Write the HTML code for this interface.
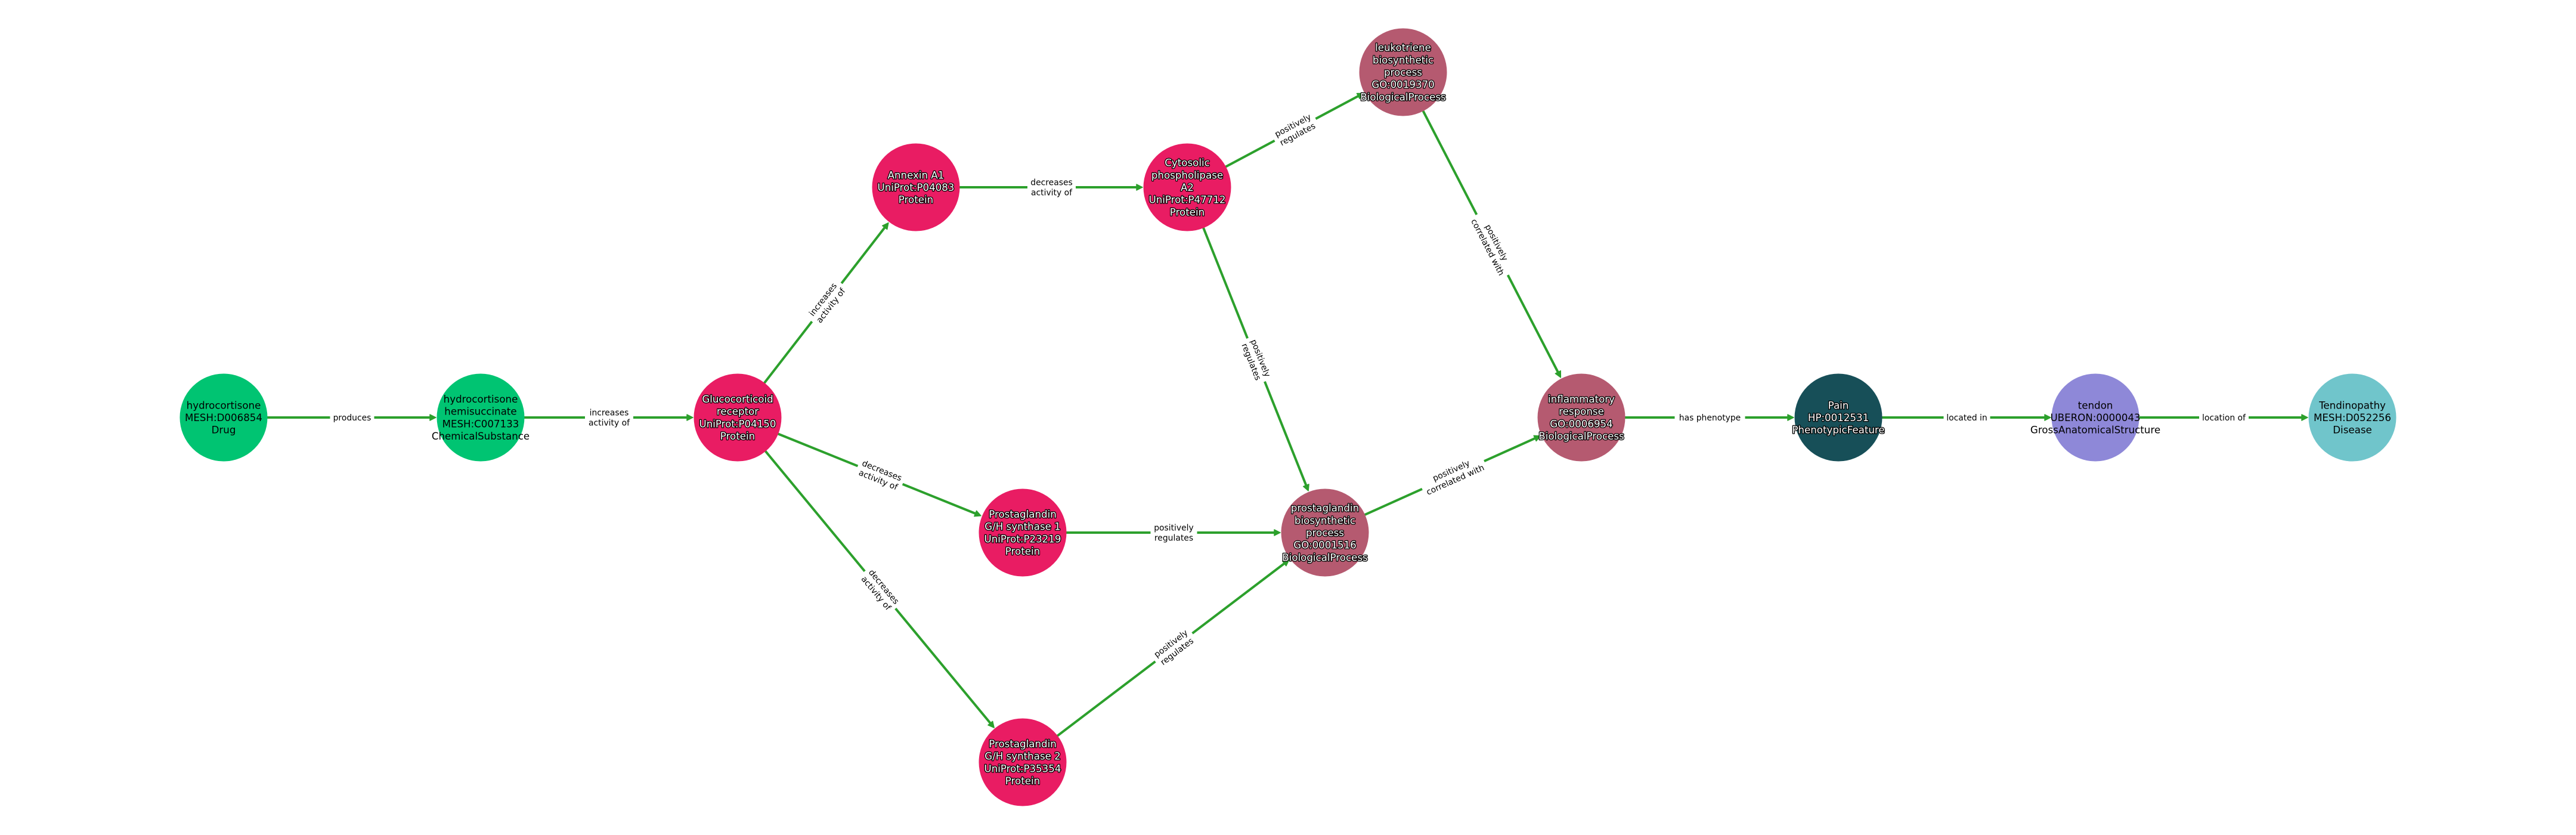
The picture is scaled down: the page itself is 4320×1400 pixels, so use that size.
<!DOCTYPE html>
<html>
<head>
<meta charset="utf-8">
<style>
html,body{margin:0;padding:0;background:#fff;width:4320px;height:1400px;overflow:hidden}
svg{display:block}
text{font-family:"DejaVu Sans",sans-serif;text-anchor:middle}
.e line{stroke:#2ca02c;stroke-width:4}
.e path{fill:#2ca02c;stroke:#2ca02c;stroke-width:1.5;stroke-linejoin:round}
.e rect{fill:#fff}
.e text{font-size:13.9px;fill:#000}
.n text{font-size:16.67px;fill:#000}
.w text{fill:#fff;stroke:#000;stroke-width:2.6px;paint-order:stroke;stroke-linejoin:round}
</style>
</head>
<body>
<svg width="4320" height="1400" viewBox="0 0 4320 1400" xmlns="http://www.w3.org/2000/svg">
<rect width="4320" height="1400" fill="#fff"/>

<!-- Edges -->
<g class="e" transform="matrix(1,0,0,1,375,700)"><line x2="352"/><path d="M346,-5 L356,0 L346,5z"/><rect x="178.5" y="-12" width="74" height="24"/><text x="215.5" y="5">produces</text></g>
<g class="e" transform="matrix(1,0,0,1,806,700)"><line x2="352"/><path d="M346,-5 L356,0 L346,5z"/><rect x="175" y="-22" width="81" height="44"/><text x="215.5" y="-3.4">increases</text><text x="215.5" y="13.3">activity of</text></g>
<g class="e" transform="matrix(.6123,-.7905,.7905,.6123,1237,700)"><line x2="409"/><path d="M403,-5 L413,0 L403,5z"/><rect x="203.6" y="-22" width="81" height="44"/><text x="244.1" y="-3.4">increases</text><text x="244.1" y="13.3">activity of</text></g>
<g class="e" transform="matrix(.9273,.3744,-.3744,.9273,1237,700)"><line x2="436"/><path d="M430,-5 L440,0 L430,5z"/><rect x="217.3" y="-22" width="81" height="44"/><text x="257.8" y="-3.4">decreases</text><text x="257.8" y="13.3">activity of</text></g>
<g class="e" transform="matrix(.6373,.7707,-.7707,.6373,1237,700)"><line x2="671"/><path d="M665,-5 L675,0 L665,5z"/><rect x="334.5" y="-22" width="81" height="44"/><text x="375" y="-3.4">decreases</text><text x="375" y="13.3">activity of</text></g>
<g class="e" transform="matrix(1,0,0,1,1536,314)"><line x2="376"/><path d="M370,-5 L380,0 L370,5z"/><rect x="187" y="-22" width="81" height="44"/><text x="227.5" y="-3.4">decreases</text><text x="227.5" y="13.3">activity of</text></g>
<g class="e" transform="matrix(.8825,-.4705,.4705,.8825,1991,314)"><line x2="331"/><path d="M325,-5 L335,0 L325,5z"/><rect x="166.1" y="-22" width="78" height="44"/><text x="205.1" y="-3.4">positively</text><text x="205.1" y="13.3">regulates</text></g>
<g class="e" transform="matrix(.3706,.9288,-.9288,.3706,1991,314)"><line x2="544"/><path d="M538,-5 L548,0 L538,5z"/><rect x="272.7" y="-22" width="78" height="44"/><text x="311.7" y="-3.4">positively</text><text x="311.7" y="13.3">regulates</text></g>
<g class="e" transform="matrix(1,0,0,1,1715,893)"><line x2="428"/><path d="M422,-5 L432,0 L422,5z"/><rect x="214.5" y="-22" width="78" height="44"/><text x="253.5" y="-3.4">positively</text><text x="253.5" y="13.3">regulates</text></g>
<g class="e" transform="matrix(.7964,-.6048,.6048,.7964,1715,1278)"><line x2="557"/><path d="M551,-5 L561,0 L551,5z"/><rect x="279.3" y="-22" width="78" height="44"/><text x="318.3" y="-3.4">positively</text><text x="318.3" y="13.3">regulates</text></g>
<g class="e" transform="matrix(.4589,.8886,-.8886,.4589,2353,121)"><line x2="572"/><path d="M566,-5 L576,0 L566,5z"/><rect x="268.8" y="-22" width="114" height="44"/><text x="325.8" y="-3.4">positively</text><text x="325.8" y="13.3">correlated with</text></g>
<g class="e" transform="matrix(.9124,-.4095,.4095,.9124,2222,893)"><line x2="392"/><path d="M386,-5 L396,0 L386,5z"/><rect x="178.6" y="-22" width="114" height="44"/><text x="235.6" y="-3.4">positively</text><text x="235.6" y="13.3">correlated with</text></g>
<g class="e" transform="matrix(1,0,0,1,2652,700)"><line x2="352"/><path d="M346,-5 L356,0 L346,5z"/><rect x="156.5" y="-12" width="118" height="24"/><text x="215.5" y="5">has phenotype</text></g>
<g class="e" transform="matrix(1,0,0,1,3083,700)"><line x2="352"/><path d="M346,-5 L356,0 L346,5z"/><rect x="176.5" y="-12" width="78" height="24"/><text x="215.5" y="5">located in</text></g>
<g class="e" transform="matrix(1,0,0,1,3514,700)"><line x2="352"/><path d="M346,-5 L356,0 L346,5z"/><rect x="174" y="-12" width="83" height="24"/><text x="215.5" y="5">location of</text></g>

<!-- Nodes -->
<g class="n"><circle cx="375" cy="700" r="73.5" fill="#00c472"/>
<text x="375" y="685.3">hydrocortisone</text><text x="375" y="706">MESH:D006854</text><text x="375" y="726.7">Drug</text></g>
<g class="n"><circle cx="806" cy="700" r="73.5" fill="#00c472"/>
<text x="806" y="675">hydrocortisone</text><text x="806" y="695.7">hemisuccinate</text><text x="806" y="716.3">MESH:C007133</text><text x="806" y="737">ChemicalSubstance</text></g>
<g class="n w"><circle cx="1237" cy="700" r="73.5" fill="#e91c63"/>
<text x="1237" y="675">Glucocorticoid</text><text x="1237" y="695.7">receptor</text><text x="1237" y="716.3">UniProt:P04150</text><text x="1237" y="737">Protein</text></g>
<g class="n w"><circle cx="1536" cy="314" r="73.5" fill="#e91c63"/>
<text x="1536" y="299.3">Annexin A1</text><text x="1536" y="320">UniProt:P04083</text><text x="1536" y="340.7">Protein</text></g>
<g class="n w"><circle cx="1991" cy="314" r="73.5" fill="#e91c63"/>
<text x="1991" y="278.7">Cytosolic</text><text x="1991" y="299.3">phospholipase</text><text x="1991" y="320">A2</text><text x="1991" y="340.7">UniProt:P47712</text><text x="1991" y="361.3">Protein</text></g>
<g class="n w"><circle cx="2353" cy="121" r="73.5" fill="#b55a70"/>
<text x="2353" y="85.7">leukotriene</text><text x="2353" y="106.3">biosynthetic</text><text x="2353" y="127">process</text><text x="2353" y="147.7">GO:0019370</text><text x="2353" y="168.3">BiologicalProcess</text></g>
<g class="n w"><circle cx="1715" cy="893" r="73.5" fill="#e91c63"/>
<text x="1715" y="868">Prostaglandin</text><text x="1715" y="888.7">G/H synthase 1</text><text x="1715" y="909.3">UniProt:P23219</text><text x="1715" y="930">Protein</text></g>
<g class="n w"><circle cx="1715" cy="1278" r="73.5" fill="#e91c63"/>
<text x="1715" y="1253">Prostaglandin</text><text x="1715" y="1273.7">G/H synthase 2</text><text x="1715" y="1294.3">UniProt:P35354</text><text x="1715" y="1315">Protein</text></g>
<g class="n w"><circle cx="2222" cy="893" r="73.5" fill="#b55a70"/>
<text x="2222" y="857.7">prostaglandin</text><text x="2222" y="878.3">biosynthetic</text><text x="2222" y="899">process</text><text x="2222" y="919.7">GO:0001516</text><text x="2222" y="940.3">BiologicalProcess</text></g>
<g class="n w"><circle cx="2652" cy="700" r="73.5" fill="#b55a70"/>
<text x="2652" y="675">inflammatory</text><text x="2652" y="695.7">response</text><text x="2652" y="716.3">GO:0006954</text><text x="2652" y="737">BiologicalProcess</text></g>
<g class="n w"><circle cx="3083" cy="700" r="73.5" fill="#174f58"/>
<text x="3083" y="685.3">Pain</text><text x="3083" y="706">HP:0012531</text><text x="3083" y="726.7">PhenotypicFeature</text></g>
<g class="n"><circle cx="3514" cy="700" r="73.5" fill="#8e88d8"/>
<text x="3514" y="685.3">tendon</text><text x="3514" y="706">UBERON:0000043</text><text x="3514" y="726.7">GrossAnatomicalStructure</text></g>
<g class="n"><circle cx="3945" cy="700" r="73.5" fill="#70c5cb"/>
<text x="3945" y="685.3">Tendinopathy</text><text x="3945" y="706">MESH:D052256</text><text x="3945" y="726.7">Disease</text></g>
</svg>
</body>
</html>
